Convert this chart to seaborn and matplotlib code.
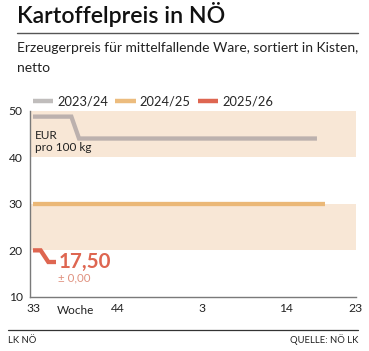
import matplotlib
matplotlib.use("Agg")
import matplotlib.pyplot as plt
import seaborn as sns
import pandas as pd
from matplotlib.lines import Line2D

sns.set_theme(style="white")
plt.rcParams['font.family'] = ['Lato', 'DejaVu Sans']

# ---- data ----
weeks = [33, 34, 35, 36, 37, 38, 39, 40, 41, 42, 43, 44, 45, 46, 47, 48, 49, 50, 51, 52,
         1, 2, 3, 4, 5, 6, 7, 8, 9, 10, 11, 12, 13, 14, 15, 16, 17, 18, 19, 20, 21, 22, 23]
price_2324 = [48.7, 48.7, 48.7, 48.7, 48.7, 48.7, 44, 44, 44, 44, 44, 44, 44, 44, 44, 44,
              44, 44, 44, 44, 44, 44, 44, 44, 44, 44, 44, 44, 44, 44, 44, 44, 44, 44, 44,
              44, 44, 44]
price_2425 = [30, 30, 30, 30, 30, 30, 30, 30, 30, 30, 30, 30, 30, 30, 30, 30, 30, 30, 30,
              30, 30, 30, 30, 30, 30, 30, 30, 30, 30, 30, 30, 30, 30, 30, 30, 30, 30, 30, 30]
price_2526 = [20, 20, 17.5, 17.5]
series_names = ["2023/24", "2024/25", "2025/26"]
tick_weeks = [33, 44, 3, 14, 23]
y_ticks = [10, 20, 30, 40, 50]
bands = [(40, 50), (20, 30)]
current_value = "17,50"
change_value = "± 0,00"

colors = {"2023/24": "#bcb1ae", "2024/25": "#ebb877", "2025/26": "#de6651"}
legend_colors = ["#c0bdbc", "#ecbc7e", "#de6651"]

rows = []
for name, vals in zip(series_names, [price_2324, price_2425, price_2526]):
    for i, v in enumerate(vals):
        rows.append({"idx": i, "week": weeks[i], "price": v, "season": name})
df = pd.DataFrame(rows)

fig = plt.figure(figsize=(3.69, 3.51), dpi=100)
ax = fig.add_axes([0.080, 0.154, 0.884, 0.531])

for lo, hi in bands:
    ax.axhspan(lo, hi, color="#f8e7d6", lw=0, zorder=0)

sns.lineplot(data=df, x="idx", y="price", hue="season", palette=colors,
             linewidth=3.1, ax=ax, legend=False, zorder=3)
for l in ax.get_lines():
    l.set_solid_capstyle("butt")
    l.set_solid_joinstyle("miter")

ax.set_xlim(-0.45, 42.05)
ax.set_ylim(10, 50)
ax.set_yticks(y_ticks)
ax.set_yticklabels([str(v) for v in y_ticks])
ax.set_xticks([weeks.index(w) for w in tick_weeks])
ax.set_xticklabels([str(w) for w in tick_weeks])
ax.set_xticks(range(len(weeks)), minor=True)
ax.set_xlabel("")
ax.set_ylabel("")
for s in ["top", "right"]:
    ax.spines[s].set_visible(False)
for s in ["left", "bottom"]:
    ax.spines[s].set_color("#7a7a7a")
    ax.spines[s].set_linewidth(1.0)
ax.tick_params(axis="y", direction="out", length=3, width=0.8, color="#7a7a7a",
               labelsize=8.7, pad=2, labelcolor="#222222")
ax.tick_params(axis="x", which="both", direction="in", length=4, width=0.7,
               color="#7a7a7a", labelsize=8.7, pad=4, labelcolor="#222222")

ax.annotate("Woche", xy=(5.5, 0), xycoords=("data", "axes fraction"),
            xytext=(0, -5.5), textcoords="offset points", ha="center", va="top",
            fontsize=8.5, color="#222222")

ax.text(0.3, 45.9, "EUR\npro 100 kg", ha="left", va="top", fontsize=8.5,
        color="#222222", linespacing=1.2)
ax.text(3.3, 17.6, current_value, ha="left", va="center", fontsize=14.8,
        fontweight="bold", color="#de6651")
ax.text(3.3, 14.0, change_value, ha="left", va="center", fontsize=8.3,
        color="#e0917f")

handles = [Line2D([0], [0], color=c, lw=3.2, solid_capstyle="butt") for c in legend_colors]
ax.legend(handles, series_names, loc="lower left", bbox_to_anchor=(0.0, 1.0),
          ncol=3, frameon=False, fontsize=9.3, handlelength=1.6,
          handletextpad=0.3, columnspacing=0.55, borderaxespad=0.25,
          borderpad=0.0)

fig.text(0.046, 0.935, "Kartoffelpreis in NÖ", fontsize=16.7, fontweight="semibold",
         color="#111111", ha="left", va="baseline")
fig.add_artist(Line2D([0.046, 0.970], [0.907, 0.907], color="#555555", lw=1.0))
fig.text(0.046, 0.852, "Erzeugerpreis für mittelfallende Ware, sortiert in Kisten,",
         fontsize=10.0, color="#222222", ha="left", va="baseline")
fig.text(0.046, 0.795, "netto", fontsize=10.0, color="#222222", ha="left", va="baseline")

fig.add_artist(Line2D([0.022, 0.970], [0.060, 0.060], color="#333333", lw=0.9))
fig.text(0.022, 0.024, "LK NÖ", fontsize=6.8, color="#222222", ha="left", va="baseline")
fig.text(0.970, 0.024, "QUELLE: NÖ LK", fontsize=6.8, color="#222222", ha="right",
         va="baseline")

fig.savefig("out.png", dpi=100, facecolor="white")
